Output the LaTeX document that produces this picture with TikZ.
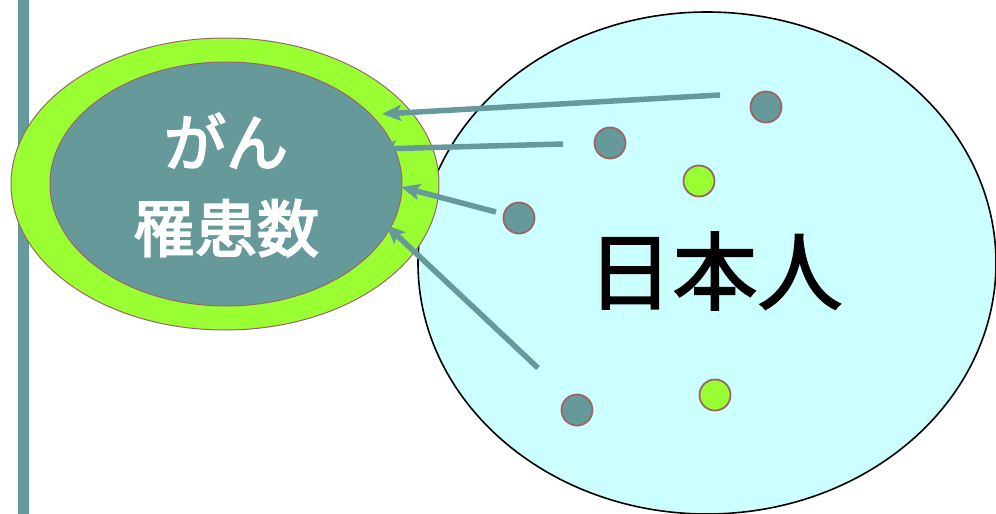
\documentclass[tikz,border=0pt]{standalone}
\usepackage{fontspec}
\usetikzlibrary{shapes.geometric,arrows.meta}
\newfontfamily\jpfont[FakeBold=2]{Noto Sans CJK JP}
\newfontfamily\jpwhite[FakeBold=3.2]{Noto Sans CJK JP}
\definecolor{teal}{HTML}{669999}
\definecolor{lime}{HTML}{99FF33}
\definecolor{paleCyan}{HTML}{CCFFFF}
\definecolor{rim}{HTML}{996666}
\tikzset{
  dot/.style={circle,draw=rim,line width=1.8pt,minimum size=31pt,inner sep=0pt},
  tealdot/.style={dot,fill=teal},
  limedot/.style={dot,fill=lime},
  feed/.style={draw=teal,line width=5.5pt,-{Stealth[length=19pt,width=16pt,inset=4pt]}},
}
\begin{document}
\begin{tikzpicture}[x=1pt,y=-1pt]
\useasboundingbox (0,0) rectangle (996,514);
% left bar
\fill[teal] (18,-5) rectangle (29,520);
% Japanese people
\node[ellipse,draw=black,line width=1.6pt,fill=paleCyan,minimum width=578pt,minimum height=502pt,inner sep=0pt] (jp) at (707,263) {};
\node[font=\jpfont\fontsize{85}{90}\selectfont,anchor=center] (jpl) at (715,271) {日本人};
% cancer ring
\node[ellipse,draw=rim,line width=1pt,fill=lime,minimum width=428pt,minimum height=292pt,inner sep=0pt] (outer) at (225,184) {};
\node[ellipse,draw=rim,line width=1pt,fill=teal,minimum width=352pt,minimum height=244pt,inner sep=0pt] (inner) at (226,184) {};
\node[font=\jpwhite\fontsize{62}{86}\selectfont,text=white,align=center] (cl) at (226,185) {がん\\罹患数};
% dots
\node[tealdot] (d1) at (766,107) {};
\node[tealdot] (d2) at (610,143) {};
\node[limedot] (d3) at (699,181) {};
\node[tealdot] (d4) at (519,218) {};
\node[tealdot] (d5) at (577,410) {};
\node[limedot] (d6) at (715,395) {};
% arrow ends
\coordinate (s1) at (720,95);
\coordinate (t1) at (382,114);
\coordinate (s2) at (563,144);
\coordinate (t2) at (377,149);
\coordinate (s3) at (496,212);
\coordinate (t3) at (401,187);
\coordinate (s4) at (538,368);
\coordinate (t4) at (386,225);
\draw[feed] (s1) -- (t1);
\draw[feed] (s2) -- (t2);
\draw[feed] (s3) -- (t3);
\draw[feed] (s4) -- (t4);
\end{tikzpicture}
\end{document}
